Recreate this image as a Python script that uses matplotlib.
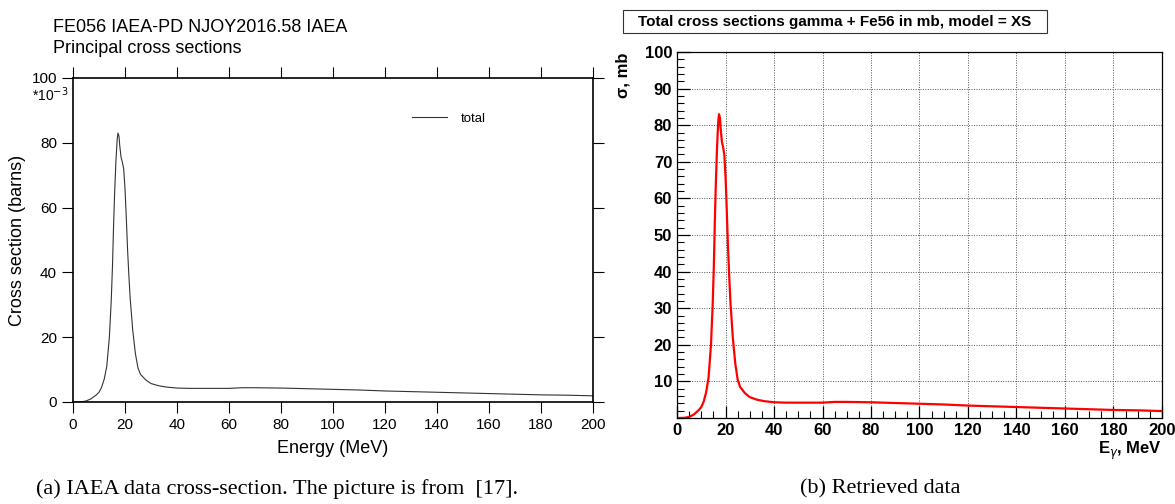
import matplotlib
matplotlib.use("Agg")
import matplotlib.pyplot as plt
from matplotlib.ticker import MultipleLocator
from matplotlib.patches import Rectangle

# gamma + Fe56 total cross section (mb)
energy = [0, 3, 5, 7, 9, 10, 11, 12, 13, 14, 14.7, 15.2, 15.6, 16, 16.5, 17, 17.3,
          17.7, 18, 18.5, 19, 19.5, 20, 20.5, 21, 21.5, 22, 23, 24, 25, 26, 28, 30,
          33, 36, 40, 45, 50, 60, 65, 70, 80, 90, 100, 110, 120, 130, 140, 150,
          160, 170, 180, 190, 200]
xsec = [0, 0.05, 0.3, 1.0, 2.2, 3.0, 4.5, 7.0, 11, 20, 31, 42, 54, 64, 74, 81, 83,
        82, 79, 75.5, 74, 72, 66, 57, 47, 39, 32, 22, 15, 10.5, 8.5, 6.8, 5.7,
        5.0, 4.6, 4.3, 4.2, 4.2, 4.2, 4.4, 4.4, 4.3, 4.1, 3.9, 3.7, 3.4, 3.2, 3.0,
        2.8, 2.6, 2.4, 2.2, 2.1, 1.9]

left_yticks = [0, 20, 40, 60, 80, 100]
left_xticks = [0, 20, 40, 60, 80, 100, 120, 140, 160, 180, 200]
right_yticks = [10, 20, 30, 40, 50, 60, 70, 80, 90, 100]

fig = plt.figure(figsize=(11.75, 5.04), dpi=100)
sans = "Liberation Sans"

# ---- left panel: IAEA plot ----
ax1 = fig.add_axes([0.0621, 0.2024, 0.4426, 0.6429])
ax1.plot(energy, xsec, color="#333333", lw=0.8, label="total")
ax1.set_xlim(0, 200)
ax1.set_ylim(0, 100)
ax1.set_xticks(left_xticks)
ax1.set_yticks(left_yticks)
ax1.tick_params(direction="out", length=8, width=0.8, labelsize=11,
                top=True, right=True, labeltop=False, labelright=False)
for lab in ax1.get_xticklabels() + ax1.get_yticklabels():
    lab.set_family(sans)
for s in ax1.spines.values():
    s.set_linewidth(1.2)
ax1.set_xlabel("Energy (MeV)", fontsize=13, family=sans, labelpad=6)
ax1.set_ylabel("Cross section (barns)", fontsize=13, family=sans, labelpad=4)
fig.text(0.045, 0.946, "FE056 IAEA-PD NJOY2016.58 IAEA", fontsize=13, family=sans, va="center")
fig.text(0.045, 0.903, "Principal cross sections", fontsize=13, family=sans, va="center")
ax1.text(-0.008, 0.948, r"*10$^{-3}$", transform=ax1.transAxes, ha="right", va="center",
         fontsize=10, family=sans)
ax1.legend(loc="upper left", bbox_to_anchor=(0.63, 0.93), frameon=False,
           handlelength=2.6, handletextpad=1.1, prop={"family": sans, "size": 9.5})

# ---- right panel: retrieved data ----
ax2 = fig.add_axes([0.5762, 0.1706, 0.4127, 0.7262])
ax2.plot(energy, xsec, color="red", lw=1.6)
ax2.set_xlim(0, 200)
ax2.set_ylim(0, 100)
ax2.set_yticks(right_yticks)
ax2.xaxis.set_major_locator(MultipleLocator(20))
ax2.xaxis.set_minor_locator(MultipleLocator(5))
ax2.yaxis.set_minor_locator(MultipleLocator(2))
ax2.tick_params(which="major", direction="in", length=9, width=0.9, labelsize=12)
ax2.tick_params(which="minor", direction="in", length=5, width=0.8)
for lab in ax2.get_xticklabels() + ax2.get_yticklabels():
    lab.set_family(sans)
    lab.set_fontweight("bold")
ax2.grid(True, which="major", linestyle=(0, (1, 1.5)), color="#555555", lw=0.7)
for s in ax2.spines.values():
    s.set_linewidth(0.9)
ax2.set_ylabel("σ, mb", fontsize=12, family=sans, fontweight="bold")
ax2.yaxis.set_label_coords(-0.095, 0.937)
ax2.set_xlabel(r"E$_\gamma$, MeV", fontsize=12, family=sans, fontweight="bold")
ax2.xaxis.set_label_coords(1.0, -0.06)
ax2.xaxis.label.set_ha("right")

fig.patches.append(Rectangle((623 / 1175, 1 - 33 / 504), 424 / 1175, 23 / 504,
                             transform=fig.transFigure, fill=False, lw=0.8,
                             edgecolor="#333333"))
fig.text(835 / 1175, 1 - 22 / 504, "Total cross sections gamma + Fe56 in mb, model = XS",
         ha="center", va="center", fontsize=11, family=sans, fontweight="bold")

# ---- captions ----
serif = "Liberation Serif"
fig.text(277 / 1175, 1 - 489 / 504, "(a) IAEA data cross-section. The picture is from  [17].",
         ha="center", va="center", fontsize=16, family=serif)
fig.text(880 / 1175, 1 - 489 / 504, "(b) Retrieved data",
         ha="center", va="center", fontsize=16, family=serif)

fig.savefig("out.png", dpi=100)
